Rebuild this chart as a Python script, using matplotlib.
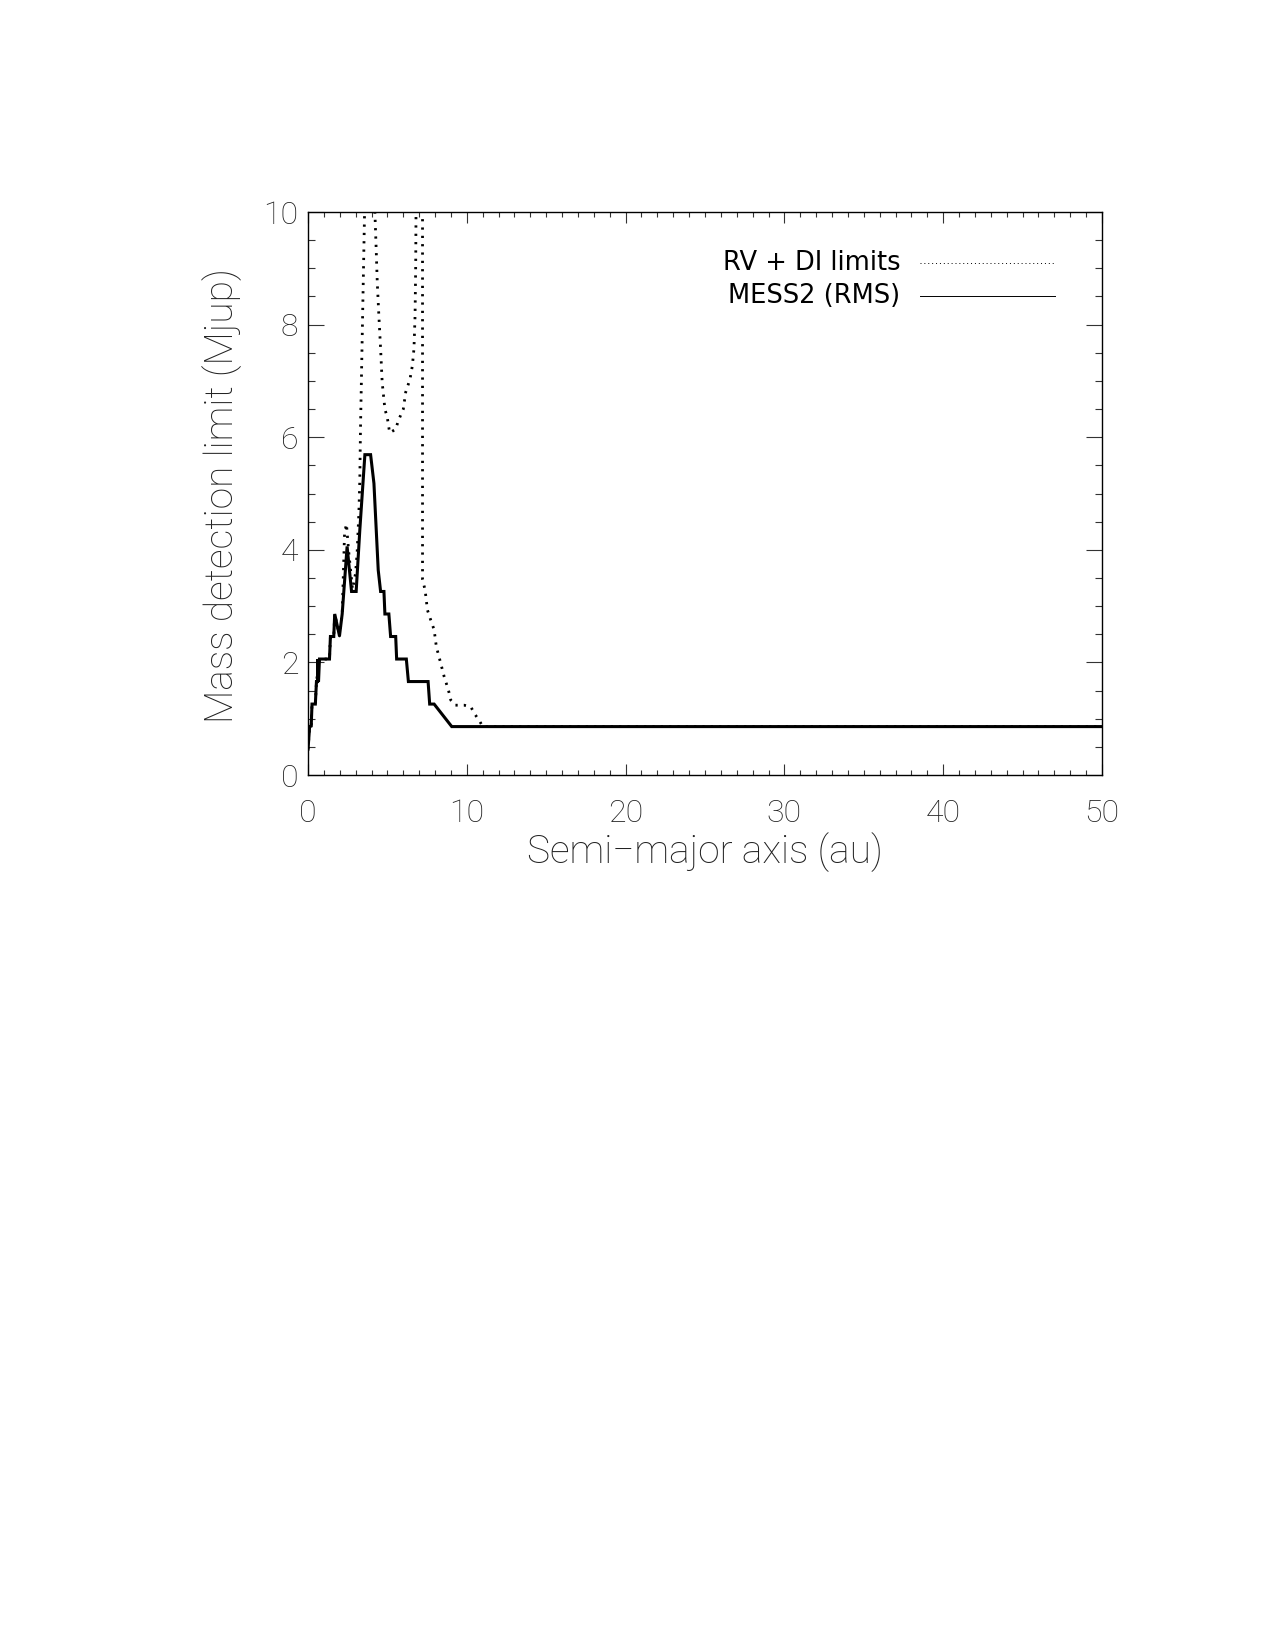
# Mass detection limits vs semi-major axis (RV + DI vs MESS2)
import matplotlib
matplotlib.use('Agg')
import matplotlib.pyplot as plt
from matplotlib.ticker import MultipleLocator

plt.rcParams['font.family'] = ['Roboto', 'DejaVu Sans']

# MESS2 (RMS) limit
a_mess = [0.0, 0.1, 0.2, 0.25, 0.46, 0.53, 0.60, 0.60, 0.66, 0.72, 1.35, 1.41, 1.62,
          1.68, 1.98, 2.15, 2.46, 2.74, 3.03, 3.26, 3.58, 3.94, 4.15, 4.42, 4.57, 4.78,
          4.84, 5.09, 5.20, 5.52, 5.58, 6.19, 6.32, 7.56, 7.66, 7.94, 9.05, 50.0]
m_mess = [0.46, 0.86, 0.87, 1.26, 1.26, 1.66, 1.66, 2.06, 1.66, 2.06, 2.06, 2.46, 2.46,
          2.86, 2.47, 2.86, 4.06, 3.26, 3.26, 4.35, 5.69, 5.69, 5.18, 3.64, 3.26, 3.26,
          2.86, 2.86, 2.46, 2.46, 2.06, 2.06, 1.66, 1.66, 1.26, 1.26, 0.86, 0.86]

# RV + DI limits (goes off scale above 10 Mjup between the two peaks)
a_rvdi = [0.0, 0.1, 0.2, 0.25, 0.46, 0.53, 0.72, 1.35, 1.41, 1.62, 1.68, 1.98, 2.15,
          2.30, 2.42, 2.55, 2.80, 2.99, 3.09, 3.20, 3.26, 3.30, 3.56, 3.90, 4.21, 4.29,
          4.36, 4.46, 4.57, 4.67, 4.84, 4.99, 5.14, 5.52, 5.68, 6.00, 6.15, 6.42, 6.57,
          6.67, 6.74, 6.78, 6.80, 7.00, 7.21, 7.21, 7.37, 7.52, 7.73, 7.94, 8.08, 8.36,
          8.57, 8.84, 8.99, 9.26, 9.83, 10.25, 10.53, 10.82, 11.00, 50.0]
m_rvdi = [0.46, 0.86, 0.87, 1.26, 1.26, 1.66, 2.06, 2.06, 2.46, 2.46, 2.86, 2.47, 2.86,
          4.30, 4.46, 4.00, 3.30, 3.58, 3.94, 4.65, 5.24, 6.10, 10.0, 11.5, 10.0, 9.35,
          8.75, 8.16, 7.57, 6.97, 6.50, 6.35, 6.08, 6.14, 6.29, 6.50, 6.80, 7.03, 7.27,
          7.57, 8.16, 9.05, 10.0, 11.5, 10.0, 3.47, 3.29, 2.93, 2.75, 2.58, 2.28, 1.98,
          1.75, 1.51, 1.33, 1.24, 1.24, 1.21, 1.07, 0.95, 0.86, 0.86]

legend_labels = ['RV + DI limits', 'MESS2 (RMS)']

fig = plt.figure(figsize=(12.75, 16.5), dpi=100)
ax = fig.add_axes([0.2416, 0.5303, 0.6227, 0.3412])

ax.plot(a_rvdi, m_rvdi, color='black', lw=2.0, linestyle=(0, (0.8, 2.2)))
ax.plot(a_mess, m_mess, color='black', lw=2.2, solid_joinstyle='miter')

ax.set_xlim(0, 50)
ax.set_ylim(0, 10)

ax.xaxis.set_major_locator(MultipleLocator(10))
ax.xaxis.set_minor_locator(MultipleLocator(1))
ax.yaxis.set_major_locator(MultipleLocator(2))
ax.yaxis.set_minor_locator(MultipleLocator(0.5))

ax.tick_params(axis='both', which='both', direction='in', top=True, right=True,
               width=0.8, color='#333333')
ax.tick_params(axis='x', which='major', length=8, pad=17)
ax.tick_params(axis='x', which='minor', length=3.6)
ax.tick_params(axis='y', which='major', length=11.5, pad=7)
ax.tick_params(axis='y', which='minor', length=5)
for lab in ax.get_xticklabels() + ax.get_yticklabels():
    lab.set_fontsize(23)
    lab.set_fontweight('light')
    lab.set_color('#222222')
for sp in ax.spines.values():
    sp.set_linewidth(1.0)

ax.set_xlabel('Semi\u2212major axis (au)', fontsize=28, fontweight='light', color='#222222',
              va='center')
ax.xaxis.set_label_coords(0.5, -0.137)
ax.set_ylabel('Mass detection limit (Mjup)', fontsize=28, fontweight='light',
              color='#222222', va='center')
ax.yaxis.set_label_coords(-0.108, 0.497)

# legend drawn IDL style: text on the left, thin line sample on the right
leg_y = [0.909, 0.851]
leg_styles = [(0, (1, 3)), '-']
for lbl, y, ls in zip(legend_labels, leg_y, leg_styles):
    ax.text(0.746, y, lbl, transform=ax.transAxes, ha='right', va='center',
            fontsize=18.5, color='black', family='DejaVu Sans')
    ax.plot([0.771, 0.941], [y, y], transform=ax.transAxes, color='black',
            lw=0.7, linestyle=ls)

fig.savefig('out.png', dpi=100)
